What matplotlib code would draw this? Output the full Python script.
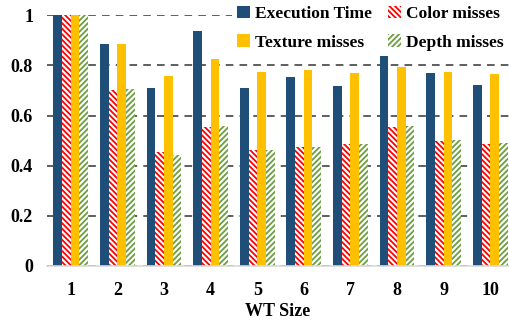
import numpy as np
import matplotlib.pyplot as plt
from matplotlib.patches import Patch

plt.rcParams['font.family'] = 'Liberation Serif'
plt.rcParams['font.weight'] = 'bold'
plt.rcParams['hatch.linewidth'] = 1.3

# data
wt_size = ['1', '2', '3', '4', '5', '6', '7', '8', '9', '10']
exec_time = [1.0, 0.887, 0.711, 0.937, 0.711, 0.755, 0.718, 0.837, 0.769, 0.722]
color_misses = [1.0, 0.704, 0.453, 0.556, 0.463, 0.476, 0.487, 0.556, 0.499, 0.488]
texture_misses = [1.0, 0.885, 0.757, 0.826, 0.775, 0.780, 0.772, 0.795, 0.774, 0.765]
depth_misses = [1.0, 0.706, 0.444, 0.560, 0.463, 0.475, 0.487, 0.560, 0.502, 0.491]

c_exec = '#1F4E79'
c_color = '#FF0000'
c_tex = '#FFC000'
c_depth = '#6A9E3F'
h_color = '\\' * 6
h_depth = '/' * 6

fig, ax = plt.subplots(figsize=(5.1, 3.22), dpi=100)
fig.subplots_adjust(left=0.092, right=0.998, top=0.952, bottom=0.175)

x = np.arange(1, len(wt_size) + 1)
w = 0.186

ax.bar(x - 1.5 * w, exec_time, w, color=c_exec, zorder=3)
ax.bar(x - 0.5 * w, color_misses, w, color='white', edgecolor=c_color,
       hatch=h_color, linewidth=0, zorder=3)
ax.bar(x + 0.5 * w, texture_misses, w, color=c_tex, zorder=3)
ax.bar(x + 1.5 * w, depth_misses, w, color='white', edgecolor=c_depth,
       hatch=h_depth, linewidth=0, zorder=3)

ax.set_xlim(0.49, 10.4)
ax.set_ylim(0, 1.0)
ax.set_yticks([0, 0.2, 0.4, 0.6, 0.8, 1.0])
ax.set_yticklabels(['0', '0.2', '0.4', '0.6', '0.8', '1'])
ax.set_xticks(x)
ax.set_xticklabels(wt_size)
ax.tick_params(axis='both', length=0, labelsize=13)
ax.tick_params(axis='y', pad=10)
ax.tick_params(axis='x', pad=12)
ax.set_xlabel('WT Size', fontsize=13, fontweight='bold', labelpad=3)

ax.yaxis.grid(True, linestyle=(0, (5, 4)), color='#333333', linewidth=1.1, zorder=0)
ax.set_axisbelow(True)
for s in ['top', 'right', 'left']:
    ax.spines[s].set_visible(False)
ax.spines['bottom'].set_color('#D9D9D9')
ax.spines['bottom'].set_linewidth(1.2)
ax.spines['bottom'].set_zorder(4)

handles = [
    Patch(facecolor=c_exec, label='Execution Time'),
    Patch(facecolor=c_tex, label='Texture misses'),
    Patch(facecolor='white', edgecolor=c_color, hatch=h_color, linewidth=0, label='Color misses'),
    Patch(facecolor='white', edgecolor=c_depth, hatch=h_depth, linewidth=0, label='Depth misses'),
]
leg = ax.legend(handles=handles, ncol=2, loc='upper right', bbox_to_anchor=(1.0, 1.06),
                frameon=True, fontsize=12.5, handlelength=0.75, handleheight=0.75,
                handletextpad=0.3, columnspacing=0.9, labelspacing=0.7,
                borderaxespad=0, borderpad=0.3)
leg.get_frame().set_edgecolor('none')
leg.get_frame().set_facecolor('white')
leg.get_frame().set_alpha(1)
leg.set_zorder(5)

fig.savefig('out.png', dpi=100)
